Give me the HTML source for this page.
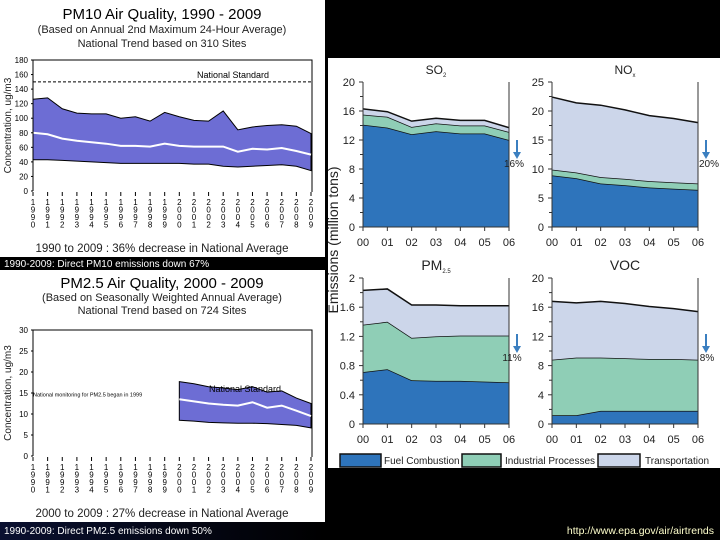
<!DOCTYPE html>
<html><head><meta charset="utf-8">
<style>
html,body{margin:0;padding:0;background:#000;}
svg{display:block;font-family:"Liberation Sans",Arial,sans-serif;}
</style></head>
<body>
<svg id="root" width="720" height="540" viewBox="0 0 720 540" xmlns="http://www.w3.org/2000/svg">
<defs>
<linearGradient id="capg" x1="0" x2="1" y1="0" y2="0"><stop offset="0" stop-color="#0a1030"/><stop offset="1" stop-color="#000"/></linearGradient>
</defs>
<rect x="0" y="0" width="720" height="540" fill="#000"/>
<rect x="0" y="0" width="325" height="257" fill="#fff"/>
<rect x="0" y="270" width="325" height="252" fill="#fff"/>
<rect x="0" y="522" width="325" height="18" fill="url(#capg)"/>
<rect x="328" y="58" width="392" height="410" fill="#fff"/>
<g id="g"></g>
</svg>
<script>
// PM10 data (1990-2009)
const pmYears = [1990,1991,1992,1993,1994,1995,1996,1997,1998,1999,2000,2001,2002,2003,2004,2005,2006,2007,2008,2009];
const pm10Upper = [126,128,113,107,106,106,100,102,96,108,102,97,96,110,84,88,90,91,89,79];
const pm10Mean = [80,78,72,69,67,65,62,62,61,65,62,61,61,61,54,58,57,59,55,50];
const pm10Lower = [43,43,42,41,40,39,38,38,38,38,38,37,37,34,33,34,35,36,34,28];
const pm10Ticks = [0,20,40,60,80,100,120,140,160,180];
// PM2.5 data (2000-2009)
const pm25Years = [2000,2001,2002,2003,2004,2005,2006,2007,2008,2009];
const pm25Upper = [17.7,17.2,16.5,16.2,15.8,16.5,15.2,15.5,13.8,12.5];
const pm25Mean = [13.5,13.0,12.5,12.2,12.0,12.8,11.5,12.0,10.8,9.5];
const pm25Lower = [8.5,8.3,8.0,7.9,7.8,7.8,7.7,7.5,7.3,6.7];
const pm25Ticks = [0,5,10,15,20,25,30];
// Emissions (million tons), 2000-2006
const emYears = ["00","01","02","03","04","05","06"];
const so2Fuel = [14.1,13.7,12.8,13.2,12.9,12.9,12.0];
const so2Ind = [1.4,1.5,1.0,1.1,1.1,1.1,1.1];
const so2Trans = [0.8,0.7,0.8,0.7,0.7,0.7,0.6];
const noxFuel = [8.9,8.4,7.5,7.2,6.8,6.6,6.4];
const noxInd = [1.0,1.0,1.1,1.1,1.1,1.1,1.1];
const noxTrans = [12.5,12.0,12.4,11.9,11.3,11.0,10.5];
const pm25Fuel = [0.71,0.75,0.60,0.59,0.59,0.58,0.57];
const pm25Ind = [0.65,0.65,0.58,0.61,0.62,0.63,0.64];
const pm25Trans = [0.47,0.45,0.45,0.43,0.41,0.41,0.41];
const vocFuel = [1.2,1.2,1.8,1.8,1.8,1.8,1.8];
const vocInd = [7.6,7.9,7.3,7.2,7.1,7.1,7.0];
const vocTrans = [8.0,7.5,7.7,7.5,7.2,6.9,6.6];

const NS="http://www.w3.org/2000/svg";
const G=document.getElementById('g');
function mk(tag,attrs,parent){const e=document.createElementNS(NS,tag);for(const k in attrs)e.setAttribute(k,attrs[k]);(parent||G).appendChild(e);return e;}
function txt(x,y,s,size,extra,parent){const t=mk('text',Object.assign({x:x,y:y,'font-size':size,fill:'#000'},extra||{}),parent);t.textContent=s;return t;}

// ---------- PM band charts ----------
function bandChart(o){
  const g=mk('g',{});
  
  
  const xs=yr=>o.x0+(yr-1990)*(o.x1-o.x0)/19;
  const ys=v=>o.y0-(v/o.vmax)*(o.y0-o.yTop);
  let t=txt(162,o.ty,o.title,15,{'text-anchor':'middle'},g);
  
  t=txt(162,o.ty+o.ls,o.sub1,11,{'text-anchor':'middle',fill:'#222'},g);
  
  t=txt(162,o.ty+2*o.ls,o.sub2,11,{'text-anchor':'middle',fill:'#222'},g);
  
  let d='';
  o.years.forEach((y,i)=>{d+=(i?'L':'M')+xs(y)+','+ys(o.upper[i]);});
  for(let i=o.years.length-1;i>=0;i--)d+='L'+xs(o.years[i])+','+ys(o.lower[i]);
  let p=mk('path',{d:d+'Z',fill:'#6d6dd4',stroke:'#000','stroke-width':1},g);
  
  d='';o.years.forEach((y,i)=>{d+=(i?'L':'M')+xs(y)+','+ys(o.mean[i]);});
  p=mk('path',{d:d,fill:'none',stroke:'#fff','stroke-width':2},g);
  
  p=mk('path',{d:`M${o.x0},${o.y0}V${o.yTop}H${o.x1+1}V${o.y0+1}`,fill:'none',stroke:'#000','stroke-width':1},g);
  
  o.ticks.forEach(v=>{
    const l=txt(o.x0-5,ys(v)+3,String(v),8,{'text-anchor':'end'},g);
    
    mk('line',{x1:o.x0-2,x2:o.x0,y1:ys(v),y2:ys(v),stroke:'#000'},g);
  });
  pmYears.forEach(y=>{
    mk('line',{x1:xs(y),x2:xs(y),y1:o.y0+1,y2:o.y0+5,stroke:'#000'},g);
    const s=String(y);
    for(let k=0;k<4;k++){
      const l=txt(xs(y),o.y0+14+k*7.5,s[k],8,{'text-anchor':'middle'},g);
      
    }
  });
  t=txt(0,0,'Concentration, ug/m3',10,{'text-anchor':'middle',transform:`translate(11,${(o.y0+o.yTop)/2}) rotate(-90)`,fill:'#222'},g);
  
  t=txt(162,o.footY,o.foot,11.5,{'text-anchor':'middle',fill:'#222'},g);
  
  return {g,xs,ys};
}
const c1=bandChart({name:'pm10-chart',title:'PM10 Air Quality, 1990 - 2009',sub1:'(Based on Annual 2nd Maximum 24-Hour Average)',sub2:'National Trend based on 310 Sites',ty:19,ls:14,
  x0:33,x1:311,y0:191,yTop:60,vmax:180,years:pmYears,upper:pm10Upper,mean:pm10Mean,lower:pm10Lower,ticks:pm10Ticks,
  foot:'1990 to 2009 : 36% decrease in National Average',footY:252});
let std=mk('line',{x1:33,x2:311,y1:c1.ys(150),y2:c1.ys(150),stroke:'#000','stroke-dasharray':'3,2'},c1.g);

let st=txt(233,c1.ys(150)-4,'National Standard',9,{'text-anchor':'middle'},c1.g);


const c2=bandChart({name:'pm25-chart',title:'PM2.5 Air Quality, 2000 - 2009',sub1:'(Based on Seasonally Weighted Annual Average)',sub2:'National Trend based on 724 Sites',ty:288,ls:13,
  x0:33,x1:311,y0:456,yTop:330,vmax:30,years:pm25Years,upper:pm25Upper,mean:pm25Mean,lower:pm25Lower,ticks:pm25Ticks,
  foot:'2000 to 2009 : 27% decrease in National Average',footY:517});
st=txt(245,c2.ys(15)-1,'National Standard',9,{'text-anchor':'middle'},c2.g);

st=txt(33,c2.ys(14.2),'National monitoring for PM2.5 began in 1999',5.5,{},c2.g);


let cap=txt(4,267,'1990-2009: Direct PM10 emissions down 67%',10,{fill:'#fff'});

cap=txt(4,534,'1990-2009: Direct PM2.5 emissions down 50%',10,{fill:'#fff'});

cap=txt(714,534,'http://www.epa.gov/air/airtrends',10.5,{fill:'#ffffcc','text-anchor':'end'});


// ---------- stacked emissions charts ----------
const COL=['#2e74bb','#8fceb6','#ccd6ea'];
function stackChart(o){
  const g=mk('g',{});
  
  
  const xs=i=>o.x0+i*(o.x1-o.x0)/6;
  const ys=v=>o.y0-(v/o.vmax)*(o.y0-o.yTop);
  const layers=[o.fuel,o.ind,o.trans];
  const names=['fuel-combustion-area','industrial-processes-area','transportation-area'];
  let base=o.fuel.map(()=>0);
  layers.forEach((arr,li)=>{
    const top=arr.map((v,i)=>base[i]+v);
    let d='';
    top.forEach((v,i)=>{d+=(i?'L':'M')+xs(i)+','+ys(v);});
    for(let i=6;i>=0;i--)d+='L'+xs(i)+','+ys(base[i]);
    const p=mk('path',{d:d+'Z',fill:COL[li]},g);
    
    let dl='';top.forEach((v,i)=>{dl+=(i?'L':'M')+xs(i)+','+ys(v);});
    mk('path',{d:dl,fill:'none',stroke:'#111','stroke-width':1.5},g);
    base=top;
  });
  mk('path',{d:`M${o.x0},${o.yTop}V${o.y0}H${o.x1}`,fill:'none',stroke:'#333','stroke-width':1},g);
  mk('line',{x1:o.x1,x2:o.x1,y1:o.yTop,y2:o.y0,stroke:'#333','stroke-width':1},g);
  o.ticks.forEach(v=>{
    mk('line',{x1:o.x0-4,x2:o.x0,y1:ys(v),y2:ys(v),stroke:'#333'},g);
    const l=txt(o.x0-8,ys(v)+4,String(v),11,{'text-anchor':'end',fill:'#222'},g);
    
  });
  for(let k=0;k<o.ticks.length-1;k++){const m=(o.ticks[k]+o.ticks[k+1])/2;mk('line',{x1:o.x0-3,x2:o.x0,y1:ys(m),y2:ys(m),stroke:'#333'},g);}
  emYears.forEach((y,i)=>{
    mk('line',{x1:xs(i),x2:xs(i),y1:o.y0,y2:o.y0+4,stroke:'#333'},g);
    const l=txt(xs(i),o.y0+19,y,11,{'text-anchor':'middle',fill:'#222'},g);
    
  });
  const t=txt((o.x0+o.x1)/2,o.yTop-8,o.title,o.tsize||12,{'text-anchor':'middle',fill:'#222'},g);
  if(o.sub){const s=mk('tspan',{'font-size':6,dy:3},t);s.textContent=o.sub;}
  
  const ax=o.x1+8,ay=o.arrowY;
  mk('line',{x1:ax,x2:ax,y1:ay,y2:ay+14,stroke:'#3b7fc0','stroke-width':2},g);
  const ar=mk('path',{d:`M${ax-4},${ay+12}L${ax+4},${ay+12}L${ax},${ay+19}Z`,fill:'#3b7fc0'},g);
  
  const pl=txt(ax+o.pdx,ay+27,o.pct,10,{'text-anchor':'middle',fill:'#222'},g);
  
}
stackChart({name:'so2-chart',title:'SO',sub:'2',x0:363,x1:509,y0:227,yTop:82,vmax:20,ticks:[0,4,8,12,16,20],fuel:so2Fuel,ind:so2Ind,trans:so2Trans,arrowY:140,pct:'16%',pdx:-3});
stackChart({name:'nox-chart',title:'NO',sub:'x',x0:552,x1:698,y0:227,yTop:82,vmax:25,ticks:[0,5,10,15,20,25],fuel:noxFuel,ind:noxInd,trans:noxTrans,arrowY:140,pct:'20%',pdx:3});
stackChart({name:'pm25-emissions-chart',title:'PM',sub:'2.5',tsize:14,x0:363,x1:509,y0:424,yTop:278,vmax:2,ticks:[0,0.4,0.8,1.2,1.6,2],fuel:pm25Fuel,ind:pm25Ind,trans:pm25Trans,arrowY:334,pct:'11%',pdx:-5});
stackChart({name:'voc-chart',title:'VOC',tsize:14,x0:552,x1:698,y0:424,yTop:278,vmax:20,ticks:[0,4,8,12,16,20],fuel:vocFuel,ind:vocInd,trans:vocTrans,arrowY:334,pct:'8%',pdx:1});

let yt=txt(0,0,'Emissions (million tons)',14,{'text-anchor':'middle',transform:'translate(338,240) rotate(-90)',fill:'#222'});


const legItems=[['Fuel Combustion',340,381,384],['Industrial Processes',462,501,505],['Transportation',598,640,645]];
legItems.forEach((it,i)=>{
  const r=mk('rect',{x:it[1],y:454,width:it[2]-it[1],height:13,fill:COL[i],stroke:'#111','stroke-width':1.5});
  
  const l=txt(it[3],464,it[0],10,{fill:'#222'});
  
});
</script>
</body></html>
